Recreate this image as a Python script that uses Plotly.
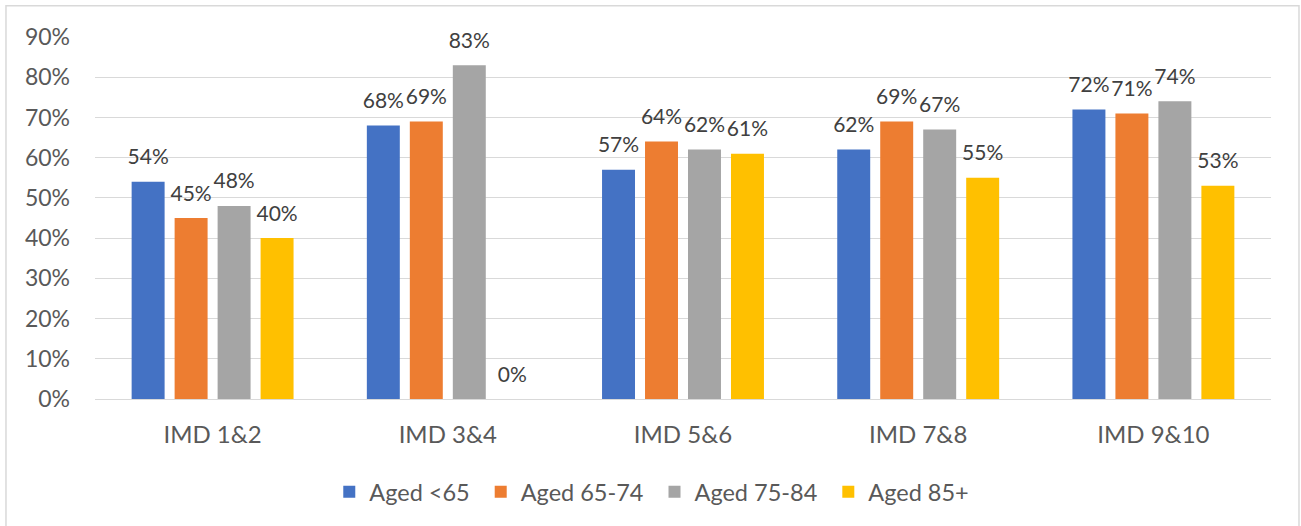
import plotly.graph_objects as go

# Categories and series values (percent)
categories = ["IMD 1&2", "IMD 3&4", "IMD 5&6", "IMD 7&8", "IMD 9&10"]
series_names = ["Aged <65", "Aged 65-74", "Aged 75-84", "Aged 85+"]
aged_under_65 = [54, 68, 57, 62, 72]
aged_65_74 = [45, 69, 64, 69, 71]
aged_75_84 = [48, 83, 62, 67, 74]
aged_85_plus = [40, 0, 61, 55, 53]
y_ticks = [0, 10, 20, 30, 40, 50, 60, 70, 80, 90]

colors = ["#4472C4", "#ED7D31", "#A5A5A5", "#FFC000"]
series_values = [aged_under_65, aged_65_74, aged_75_84, aged_85_plus]

FONT = "Lato"
TICK_COLOR = "#595959"
LABEL_COLOR = "#404040"
GAP = 0.269

fig = go.Figure()

for i, (name, vals, col) in enumerate(zip(series_names, series_values, colors)):
    fig.add_trace(go.Bar(
        x=categories, y=vals, name=name + "\u00a0",
        marker=dict(color=col, line=dict(width=0)),
        offsetgroup=str(i), hoverinfo="skip",
    ))

# Data labels, grouped alongside the bars
for i, vals in enumerate(series_values):
    fig.add_trace(go.Scatter(
        x=categories, y=vals, mode="markers+text",
        text=[f"{v}%" for v in vals], textposition="top center",
        textfont=dict(family=FONT, size=21, color=LABEL_COLOR),
        marker=dict(size=18, opacity=0),
        offsetgroup=str(i), alignmentgroup="labels", orientation="v",
        showlegend=False, hoverinfo="skip", cliponaxis=False,
    ))

fig.update_layout(
    width=1301, height=526,
    margin=dict(l=95, r=30, t=37, b=127),
    paper_bgcolor="white", plot_bgcolor="white",
    barmode="group", bargap=GAP, bargroupgap=0.233,
    scattermode="group", scattergap=GAP,
    font=dict(family=FONT, size=23, color=TICK_COLOR),
    showlegend=True,
    legend=dict(
        orientation="h", x=0.476, xanchor="center", y=-0.257, yanchor="middle",
        font=dict(family=FONT, size=23.5, color=TICK_COLOR),
        itemwidth=30, traceorder="normal",
    ),
    shapes=[dict(
        type="rect", xref="paper", yref="paper",
        x0=-0.0757, x1=1.0238, y0=-0.45, y1=1.086,
        line=dict(color="#D9D9D9", width=1.5), fillcolor="rgba(0,0,0,0)",
        layer="below",
    )],
)

fig.update_xaxes(
    showgrid=False, showline=False, ticks="",
    tickfont=dict(family=FONT, size=24, color=TICK_COLOR),
    ticklabelstandoff=19,
)
fig.update_yaxes(
    range=[0, 90], tickvals=y_ticks, ticktext=[f"{t}%" for t in y_ticks],
    showgrid=True, gridcolor="#D9D9D9", gridwidth=1.3,
    zeroline=True, zerolinecolor="#D9D9D9", zerolinewidth=1.3,
    showline=False, ticks="",
    tickfont=dict(family=FONT, size=23, color=TICK_COLOR),
    ticklabelstandoff=24,
)

fig.write_html("out.html")
